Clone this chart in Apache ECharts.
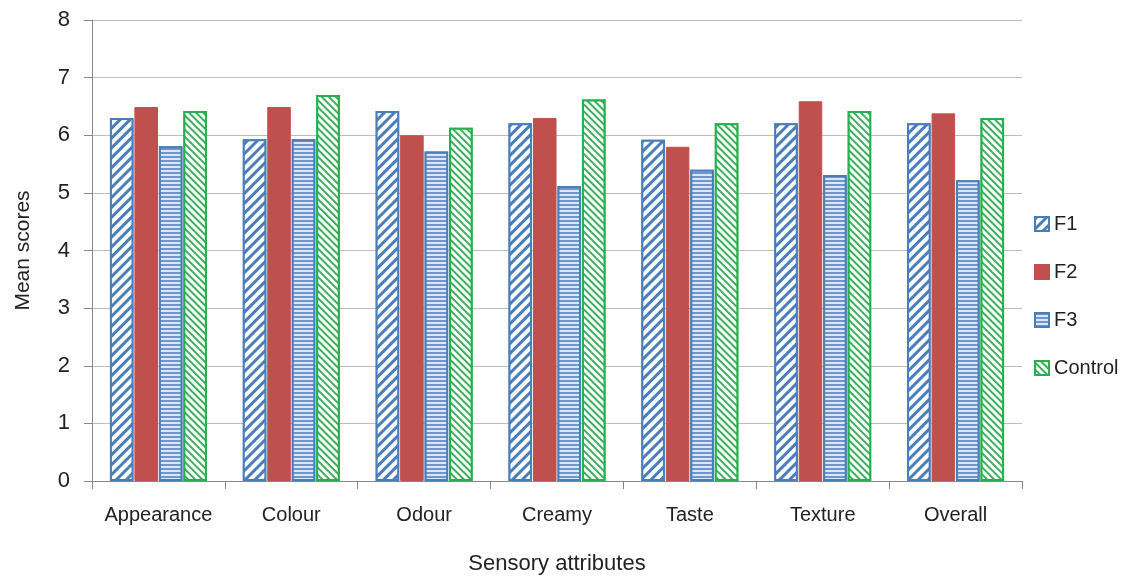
<!DOCTYPE html>
<html>
<head>
<meta charset="utf-8">
<script src="https://cdn.jsdelivr.net/npm/echarts@6/dist/echarts.min.js"></script>
<style>
  html, body { margin: 0; padding: 0; background: #fff; }
  #chart { width: 1137px; height: 580px; }
</style>
</head>
<body>
<div id="chart"></div>
<script>
// Sensory attributes and mean scores per formulation
const categories = ['Appearance', 'Colour', 'Odour', 'Creamy', 'Taste', 'Texture', 'Overall'];
const f1 = [6.3, 5.93, 6.42, 6.21, 5.92, 6.21, 6.21];
const f2 = [6.49, 6.49, 6.0, 6.3, 5.8, 6.59, 6.38];
const f3 = [5.81, 5.93, 5.72, 5.12, 5.4, 5.31, 5.22];
const control = [6.42, 6.7, 6.13, 6.62, 6.21, 6.42, 6.3];
const yTicks = [0, 1, 2, 3, 4, 5, 6, 7, 8];

const FONT = '"Liberation Sans", Arial, sans-serif';
const blue = '#4A7EBB';
const red = '#C0504D';
const green = '#22B14C';

const chart = echarts.init(document.getElementById('chart'), null, { renderer: 'canvas' });

function series(name, data, itemStyle) {
  return { name, type: 'bar', data, itemStyle, barGap: '4%', barCategoryGap: '27%' };
}

chart.setOption({
  animation: false,
  backgroundColor: '#ffffff',
  grid: { left: 92, right: 115, top: 20, bottom: 99, containLabel: false, outerBoundsMode: 'none' },
  legend: {
    orient: 'vertical',
    left: 1029,
    top: 209,
    icon: 'rect',
    itemWidth: 14,
    itemHeight: 14,
    itemGap: 28,
    textStyle: { fontFamily: FONT, fontSize: 20, color: '#222' },
    data: ['F1', 'F2', 'F3', 'Control']
  },
  xAxis: {
    type: 'category',
    data: categories,
    name: 'Sensory attributes',
    nameLocation: 'middle',
    nameGap: 72,
    nameTextStyle: { fontFamily: FONT, fontSize: 22, color: '#222' },
    axisLine: { lineStyle: { color: '#888', width: 1 } },
    axisTick: { show: true, length: 8, lineStyle: { color: '#888' } },
    axisLabel: { fontFamily: FONT, fontSize: 20, color: '#222', margin: 24, interval: 0 }
  },
  yAxis: {
    type: 'value',
    min: 0,
    max: 8,
    interval: 1,
    name: 'Mean scores',
    nameLocation: 'middle',
    nameGap: 58,
    nameRotate: 90,
    nameTextStyle: { fontFamily: FONT, fontSize: 21, color: '#222' },
    axisLine: { show: true, lineStyle: { color: '#888', width: 1 } },
    axisTick: { show: true, length: 8, lineStyle: { color: '#888' } },
    axisLabel: {
      fontFamily: FONT, fontSize: 22, color: '#222', margin: 22,
      formatter: v => (yTicks.includes(v) ? String(v) : '')
    },
    splitLine: { show: true, lineStyle: { color: '#BDBDBD', width: 1 } }
  },
  series: [
    series('F1', f1, {
      color: '#ffffff', borderColor: blue, borderWidth: 2,
      decal: { symbol: 'rect', color: blue, backgroundColor: '#ffffff',
               dashArrayX: [1, 0], dashArrayY: [3, 4], rotation: -Math.PI / 4 }
    }),
    series('F2', f2, { color: red, borderColor: red, borderWidth: 1 }),
    series('F3', f3, {
      color: '#C6D6EE', borderColor: blue, borderWidth: 2,
      decal: { symbol: 'rect', color: '#6E96CC', backgroundColor: '#DCE6F4',
               dashArrayX: [1, 0], dashArrayY: [2, 2], rotation: 0 }
    }),
    series('Control', control, {
      color: '#ffffff', borderColor: green, borderWidth: 2,
      decal: { symbol: 'rect', color: '#3DAF5E', backgroundColor: '#ffffff',
               dashArrayX: [1, 0], dashArrayY: [2, 3], rotation: Math.PI / 4 }
    })
  ]
});
</script>
</body>
</html>
